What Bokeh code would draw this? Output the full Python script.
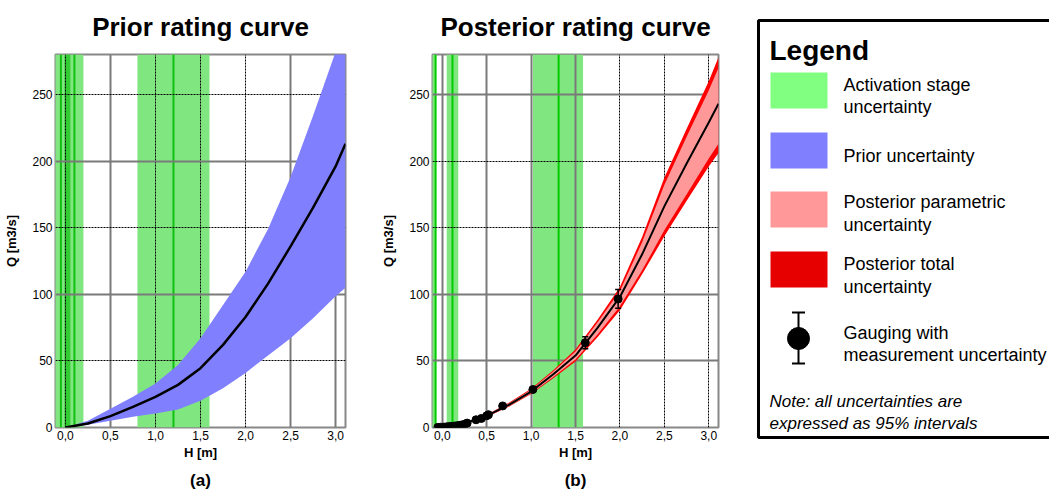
from bokeh.plotting import figure
from bokeh.layouts import row, column
from bokeh.models import (Range1d, FixedTicker, Grid, CustomJSTickFormatter, Title,
                          Whisker, TeeHead, ColumnDataSource, BoxAnnotation, Span)
from bokeh.embed import file_html
from bokeh.resources import INLINE
from bokeh.core.properties import value

# ---------------- data ----------------
x_ticks = [0.0, 0.5, 1.0, 1.5, 2.0, 2.5, 3.0]
y_ticks = [0, 50, 100, 150, 200, 250]

# prior rating curve (H [m], Q [m3/s])
prior_h = [0.0, 0.25, 0.5, 0.75, 1.0, 1.25, 1.5, 1.75, 2.0, 2.25, 2.5, 2.75, 3.0, 3.11]
prior_med = [0, 3, 8.5, 15.5, 23, 32, 44.5, 62, 83, 108, 136, 165, 196, 213]
prior_up = [0, 5, 14, 23, 33, 47, 67, 92, 117, 149, 188, 234, 282, 305]
prior_lo = [0, 2, 5, 8, 10.5, 13.5, 20, 29.5, 41, 54, 67, 82, 98.5, 105]

# prior activation stages
prior_bands = [(-0.25, 0.2), (0.8, 1.6)]
prior_dark_bands = [(-0.01, 0.055)]
prior_lines = [-0.05, 0.1, 1.2]

# posterior rating curve
post_h = [-0.07, 0.0, 0.25, 0.5, 0.75, 1.0, 1.25, 1.5, 1.75, 2.0, 2.25, 2.5, 2.75, 3.0, 3.11]
post_med = [0, 0.3, 3, 8.7, 17, 27, 40, 54, 75, 98, 130, 166, 198, 229, 243]
post_tot_up = [0, 0.4, 3.4, 9.5, 18.5, 29, 43, 58.5, 81, 105.5, 143, 187.5, 224, 260, 278]
post_tot_lo = [0, 0.2, 2.6, 7.9, 15.6, 25.2, 37, 49.5, 68, 88, 115, 143.5, 170, 196, 206]
post_par_up = [0, 0.35, 3.3, 9.3, 18.1, 28.4, 42, 57, 79, 102.5, 139, 182, 218, 253, 270]
post_par_lo = [0, 0.25, 2.7, 8.1, 16, 25.8, 38, 51, 70, 91, 118, 148, 175, 202, 213]

# posterior activation stages
post_bands = [(-0.25, -0.08), (0.05, 0.18), (1.02, 1.585)]
post_lines = [-0.075, 0.115, 1.31]

# gaugings
gaug_h = [-0.05, -0.02, 0.02, 0.05, 0.08, 0.11, 0.14, 0.17, 0.2, 0.23, 0.26, 0.28,
          0.38, 0.44, 0.5, 0.52, 0.68, 1.02, 1.61, 1.98]
gaug_q = [0.1, 0.2, 0.3, 0.5, 0.7, 0.9, 1.1, 1.4, 1.7, 2.1, 2.6, 3.3,
          5.8, 6.8, 8.8, 9.6, 16.2, 28.5, 63.7, 96.5]
gaug_u = [0.05, 0.05, 0.05, 0.05, 0.05, 0.05, 0.1, 0.1, 0.1, 0.1, 0.15, 0.2,
          0.3, 0.35, 0.45, 0.5, 0.8, 1.5, 4.5, 7.0]

# legend entries
legend_labels = [["Activation stage", "uncertainty"], ["Prior uncertainty"],
                 ["Posterior parametric", "uncertainty"], ["Posterior total", "uncertainty"],
                 ["Gauging with", "measurement uncertainty"]]
note_lines = ["Note: all uncertainties are", "expressed as 95% intervals"]

# ---------------- styles ----------------
FONT = "Liberation Sans"
GREEN_BAND = "#80E680"
GREEN_DARK = "#33CC33"
GREEN_LINE = "#11C011"
BLUE = "#8080FF"
PINK = "#FF9999"
RED = "#FF0000"
GRID_SOLID = "#7a7a7a"
H_FIG = 495


def make_plot(title, letter, width, mbl, mbr, xs_solid, xs_dash, ys_solid, ys_dash):
    p = figure(width=width, height=H_FIG, x_range=Range1d(-0.11, 3.11), y_range=Range1d(0, 280),
               output_backend="svg", toolbar_location=None,
               min_border_left=mbl, min_border_right=mbr, min_border_top=54, min_border_bottom=68)
    p.title.text = title
    p.title.text_font = FONT
    p.title.text_font_size = "26px"
    p.title.text_font_style = "bold"
    p.title.text_color = "black"
    p.title.align = "center"
    p.title.vertical_align = "top"
    p.title.standoff = 22
    p.outline_line_color = "#888888"
    p.outline_line_width = 2
    p.xgrid.visible = False
    p.ygrid.visible = False
    for dim, ticks, solid in [(0, xs_solid, True), (0, xs_dash, False),
                              (1, ys_solid, True), (1, ys_dash, False)]:
        if solid:
            g = Grid(dimension=dim, ticker=FixedTicker(ticks=ticks),
                     grid_line_color=GRID_SOLID, grid_line_width=2)
        else:
            g = Grid(dimension=dim, ticker=FixedTicker(ticks=ticks),
                     grid_line_color="black", grid_line_width=1, grid_line_dash="2 1")
        p.add_layout(g, "center")
    p.xaxis.ticker = FixedTicker(ticks=x_ticks)
    p.xaxis.formatter = CustomJSTickFormatter(code="return tick.toFixed(1).replace('.', ',')")
    p.yaxis.ticker = FixedTicker(ticks=y_ticks)
    for ax in (p.xaxis, p.yaxis):
        ax.axis_line_color = None
        ax.major_tick_line_color = None
        ax.minor_tick_line_color = None
        ax.major_tick_out = 0
        ax.major_tick_in = 0
        ax.minor_tick_out = 0
        ax.minor_tick_in = 0
        ax.major_label_text_font = FONT
        ax.major_label_text_font_size = "12px"
        ax.major_label_text_color = "black"
        ax.major_label_standoff = 3
        ax.axis_label_text_font = FONT
        ax.axis_label_text_font_size = "13px"
        ax.axis_label_text_font_style = "bold"
        ax.axis_label_text_color = "black"
        ax.axis_label_standoff = 2
    p.xaxis.axis_label = "H [m]"
    p.yaxis.axis_label = "Q [m3/s]"
    p.yaxis.axis_label_standoff = 10
    p.add_layout(Title(text=letter, align="center", text_font=FONT, text_font_size="17px",
                       text_font_style="bold", text_color="black", standoff=12), "below")
    return p


# ---------------- prior ----------------
p1 = make_plot("Prior rating curve", "(a)", 378, 55, 33,
               [0.5, 2.5, 3.0], [0.0, 1.0, 1.5, 2.0], [200, 100], [250, 150, 50])
for lo, hi in prior_bands:
    p1.add_layout(BoxAnnotation(left=lo, right=hi, fill_color=GREEN_BAND, fill_alpha=1,
                                line_color=None, level="image"))
for lo, hi in prior_dark_bands:
    p1.add_layout(BoxAnnotation(left=lo, right=hi, fill_color=GREEN_DARK, fill_alpha=1,
                                line_color=None, level="image"))
for loc in prior_lines:
    p1.add_layout(Span(location=loc, dimension="height", line_color=GREEN_LINE,
                       line_width=2, level="image"))
p1.varea(x=prior_h, y1=prior_lo, y2=prior_up, fill_color=BLUE)
p1.line(prior_h, prior_med, line_color="black", line_width=2.5)

# ---------------- posterior ----------------
p2 = make_plot("Posterior rating curve", "(b)", 362, 51, 22,
               [0.0, 0.5, 1.0, 1.5], [2.0, 2.5, 3.0], [250, 100, 50], [200, 150])
for lo, hi in post_bands:
    p2.add_layout(BoxAnnotation(left=lo, right=hi, fill_color=GREEN_BAND, fill_alpha=1,
                                line_color=None, level="image"))
for loc in post_lines:
    p2.add_layout(Span(location=loc, dimension="height", line_color="#00CC00",
                       line_width=2, level="image"))
p2.varea(x=post_h, y1=post_tot_lo, y2=post_tot_up, fill_color=RED)
p2.varea(x=post_h, y1=post_par_lo, y2=post_par_up, fill_color=PINK)
p2.line(post_h, post_med, line_color="black", line_width=2)
gsrc = ColumnDataSource(dict(h=gaug_h, q=gaug_q,
                             lo=[q - u for q, u in zip(gaug_q, gaug_u)],
                             up=[q + u for q, u in zip(gaug_q, gaug_u)]))
p2.add_layout(Whisker(source=gsrc, base="h", lower="lo", upper="up", line_color="black",
                      line_width=1.5, level="annotation",
                      upper_head=TeeHead(size=6, line_color="black", line_width=1.5),
                      lower_head=TeeHead(size=6, line_color="black", line_width=1.5)))
p2.scatter("h", "q", source=gsrc, size=8, color="black")

# ---------------- legend panel ----------------
W_L = 309
L = figure(width=W_L, height=H_FIG, x_range=Range1d(0, W_L), y_range=Range1d(H_FIG, 0),
           output_backend="svg", toolbar_location=None, x_axis_type=None, y_axis_type=None,
           min_border=0)
L.outline_line_color = None
L.quad(left=[18], right=[330], top=[20], bottom=[437], fill_color="white",
       line_color="black", line_width=3)
L.text(x=[29], y=[50], text=["Legend"], text_font=value(FONT), text_font_size="28px",
       text_font_style="bold", text_baseline="alphabetic")
sw_top = [72, 132, 191, 251]
sw_colors = ["#80FF80", "#8080FF", "#FF9999", "#E60000"]
L.quad(left=[30] * 4, right=[87] * 4, top=sw_top, bottom=[t + 36 for t in sw_top],
       fill_color=sw_colors, line_color=None)
base_y = [[84.5, 106.5], [155], [201.5, 224.5], [263, 286], [332, 354]]
tx, ty, tt = [], [], []
for lines, ys in zip(legend_labels, base_y):
    for s, yy in zip(lines, ys):
        tx.append(103); ty.append(yy); tt.append(s)
L.text(x=tx, y=ty, text=tt, text_font=value(FONT), text_font_size="18px",
       text_baseline="alphabetic")
L.text(x=[29, 29], y=[400.5, 422.5], text=note_lines, text_font=value(FONT),
       text_font_size="17px", text_font_style="italic", text_baseline="alphabetic")
L.segment(x0=[58, 51.5, 51.5], y0=[312, 312, 363], x1=[58, 64.5, 64.5], y1=[363, 312, 363],
          line_color="black", line_width=2)
L.scatter(x=[58], y=[338], size=22, color="black")

layout = row(p1, p2, column(L))
open("out.html", "w").write(file_html(layout, INLINE))
